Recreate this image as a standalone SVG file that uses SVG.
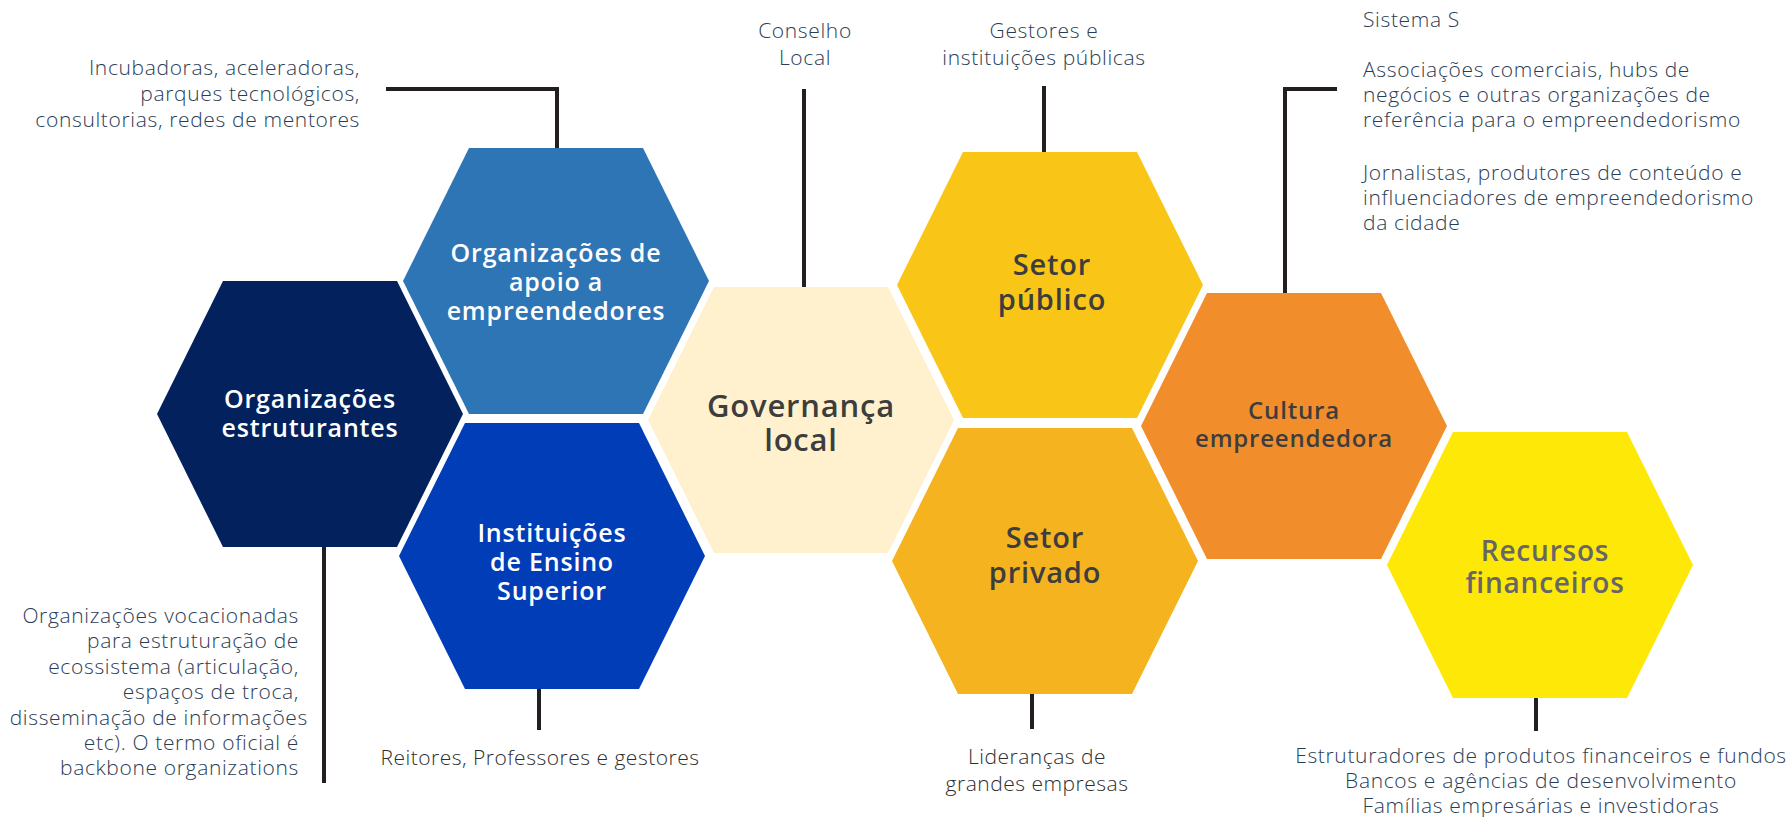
<svg xmlns="http://www.w3.org/2000/svg" width="1792" height="817" viewBox="0 0 1792 817">
<defs>
<style>
.hex{stroke:none}
.t{font-family:"Open Sans","Liberation Sans",sans-serif;font-weight:600;font-size:25px;letter-spacing:0.8px;text-anchor:middle}
.w{fill:#ffffff}
.d{fill:#3d3d3d}
.g{fill:#666666}
.a{font-family:"Open Sans","Liberation Sans",sans-serif;font-weight:300;font-size:21px;letter-spacing:0.65px;fill:#2b3d55}
.b{font-family:"Open Sans","Liberation Sans",sans-serif;font-weight:300;font-size:21px;letter-spacing:0.5px;fill:#2e2e2e;text-anchor:middle}
.e{text-anchor:end}
.m{text-anchor:middle}
.c{fill:none;stroke:#231f20;stroke-width:4}
</style>
<polygon id="hx" points="-153,0 -87,-133 87,-133 153,0 87,133 -87,133"/>
</defs>
<rect width="1792" height="817" fill="#ffffff"/>
<g id="connectors">
<polyline class="c" points="386,89 557,89 557,148"/>
<line class="c" x1="324" y1="546" x2="324" y2="783"/>
<line class="c" x1="539" y1="688" x2="539" y2="730"/>
<line class="c" x1="804" y1="89" x2="804" y2="288"/>
<line class="c" x1="1044" y1="86" x2="1044" y2="153"/>
<polyline class="c" points="1337,89 1285,89 1285,294"/>
<line class="c" x1="1032" y1="693" x2="1032" y2="729"/>
<line class="c" x1="1536" y1="697" x2="1536" y2="731"/>
</g>
<g id="org-estruturantes">
<use href="#hx" x="310" y="414" fill="#03215c"/>
<text class="t w" x="310"><tspan x="310" y="408">Organizações</tspan><tspan x="310" y="437">estruturantes</tspan></text>
</g>
<g id="org-apoio">
<use href="#hx" x="556" y="281" fill="#2e75b5"/>
<text class="t w"><tspan x="556" y="262">Organizações de</tspan><tspan x="556" y="291">apoio a</tspan><tspan x="556" y="320">empreendedores</tspan></text>
</g>
<g id="instituicoes">
<use href="#hx" x="552" y="556" fill="#013db7"/>
<text class="t w"><tspan x="552" y="542">Instituições</tspan><tspan x="552" y="571">de Ensino</tspan><tspan x="552" y="600">Superior</tspan></text>
</g>
<g id="governanca">
<use href="#hx" x="801" y="420" fill="#fff1cd"/>
<text class="t d" style="font-size:31px"><tspan x="801" y="417">Governança</tspan><tspan x="801" y="451">local</tspan></text>
</g>
<g id="setor-publico">
<use href="#hx" x="1050" y="285" fill="#f9c517"/>
<text class="t d" style="font-size:29px"><tspan x="1052" y="275">Setor</tspan><tspan x="1052" y="310">público</tspan></text>
</g>
<g id="setor-privado">
<use href="#hx" x="1045" y="561" fill="#f5b31f"/>
<text class="t d" style="font-size:29px"><tspan x="1045" y="548">Setor</tspan><tspan x="1045" y="583">privado</tspan></text>
</g>
<g id="cultura">
<use href="#hx" x="1294" y="426" fill="#f18e2b"/>
<text class="t d" style="font-size:24px"><tspan x="1294" y="419">Cultura</tspan><tspan x="1294" y="447">empreendedora</tspan></text>
</g>
<g id="recursos">
<use href="#hx" x="1540" y="565" fill="#fee808"/>
<text class="t g" style="font-size:28px"><tspan x="1545" y="561">Recursos</tspan><tspan x="1545" y="593">financeiros</tspan></text>
</g>
<g id="labels">
<text class="a e"><tspan x="360" y="75">Incubadoras, aceleradoras,</tspan><tspan x="360" y="101">parques tecnológicos,</tspan><tspan x="360" y="127">consultorias, redes de mentores</tspan></text>
<text class="a m"><tspan x="805" y="38">Conselho</tspan><tspan x="805" y="65">Local</tspan></text>
<text class="a m"><tspan x="1044" y="38">Gestores e</tspan><tspan x="1044" y="65">instituições públicas</tspan></text>
<text class="a"><tspan x="1363" y="27">Sistema S</tspan><tspan x="1363" y="77">Associações comerciais, hubs de</tspan><tspan x="1363" y="102">negócios e outras organizações de</tspan><tspan x="1363" y="127">referência para o empreendedorismo</tspan><tspan x="1363" y="180">Jornalistas, produtores de conteúdo e</tspan><tspan x="1363" y="205">influenciadores de empreendedorismo</tspan><tspan x="1363" y="230">da cidade</tspan></text>
<text class="a e"><tspan x="299" y="623">Organizações vocacionadas</tspan><tspan x="299" y="648">para estruturação de</tspan><tspan x="299" y="674">ecossistema (articulação,</tspan><tspan x="299" y="699">espaços de troca,</tspan><tspan x="308" y="725">disseminação de informações</tspan><tspan x="299" y="750">etc). O termo oficial é</tspan><tspan x="299" y="775">backbone organizations</tspan></text>
<text class="b"><tspan x="540" y="765">Reitores, Professores e gestores</tspan></text>
<text class="b"><tspan x="1037" y="764">Lideranças de</tspan><tspan x="1037" y="791">grandes empresas</tspan></text>
<text class="a m"><tspan x="1541" y="763">Estruturadores de produtos financeiros e fundos</tspan><tspan x="1541" y="788">Bancos e agências de desenvolvimento</tspan><tspan x="1541" y="813">Famílias empresárias e investidoras</tspan></text>
</g>
</svg>
